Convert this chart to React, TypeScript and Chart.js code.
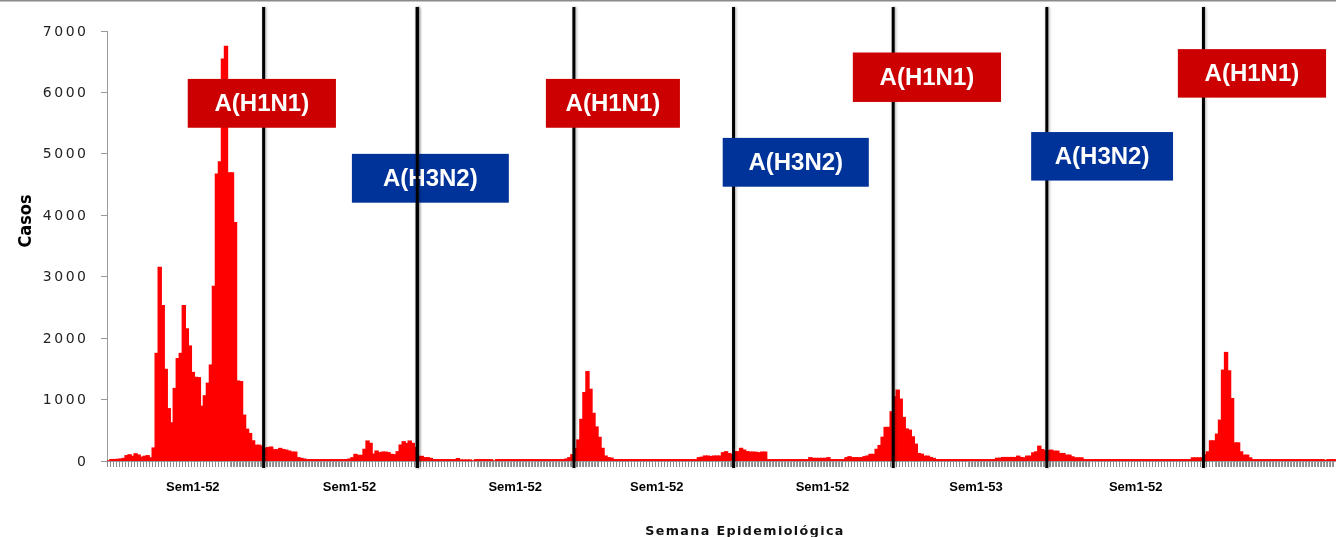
import React, { useEffect, useRef } from 'react';
import { Chart, registerables } from 'chart.js';

Chart.register(...registerables);

// Weekly cases, one block per span between the black season lines
const block1: number[] = [
  0, 22, 22, 25, 30, 40, 85, 100, 75, 115,
  95, 60, 75, 85, 50, 210, 1750, 3150, 2530, 1490,
  850, 620, 1180, 1665, 1750, 2530, 2150, 1870, 1440, 1360,
  1355, 890, 1060, 1265, 1560, 2840, 4670, 4870, 6540, 6750,
  4690, 4690, 3880, 1300, 1290, 744, 516, 445, 326, 255,
  255, 240,
];
const block2: number[] = [
  205, 218, 225, 182, 182, 203, 185, 175, 160, 143,
  143, 52, 41, 30,
  20, 20, 20, 20, 20, 20, 20, 20, 20, 20,
  20, 20, 20, 20,
  30, 52, 106, 90, 90, 188, 323, 285, 111, 160,
  133, 143, 143, 133, 106, 100, 149, 258, 312, 285,
  323, 285, 218,
];
const block3: number[] = [
  73, 73, 52, 52, 40,
  20, 20, 20, 20, 20, 20, 20, 20,
  37, 15, 15, 15, 15, 0,
  20, 20, 20, 20, 20, 20, 0,
  20, 20, 20, 20, 20, 20, 20, 20, 20, 20,
  20, 20, 20, 20, 20, 20, 20, 20, 20, 20,
  20, 20, 20,
  30, 52, 100,
];
const block4: number[] = [
  200, 340, 676, 1112, 1453, 1166, 774, 552, 383, 204,
  79, 52, 45,
  20, 20, 20, 20, 20, 20, 20, 20, 20, 20,
  20, 20, 20, 20, 20, 20, 20, 20, 20, 20,
  20, 20, 20, 20, 20, 20, 20, 20,
  52, 60, 79, 79, 70, 79, 79, 79, 133, 149,
  120, 106,
];
const block5: number[] = [
  150, 149, 204, 176, 150, 143, 143, 140, 133, 143,
  143,
  20, 20, 20, 20, 20, 20, 20, 20, 20, 20,
  20, 20, 20, 20,
  52, 41, 41, 41, 41, 41, 52,
  20, 20, 20, 20, 20,
  52, 68, 52, 52, 52, 52, 68, 80, 106, 106,
  188, 250, 385, 545, 545, 800,
];
const block6: number[] = [
  1043, 1152, 1005, 707, 520, 500, 391, 272, 120, 109,
  77, 77, 55, 40,
  20, 20, 20, 20, 20, 20, 20, 20, 20, 20,
  20, 20, 20, 20, 20, 20, 20, 20, 20, 20,
  43, 43, 55, 55, 55, 55, 55, 77, 55, 49,
  77, 77, 131, 147, 239, 185, 163,
];
const block7: number[] = [
  170, 174, 158, 158, 120, 120, 93, 93, 66, 49,
  49, 49,
  20, 20, 20, 20, 20, 20, 20, 20, 20, 20,
  20, 20, 20, 20, 20, 20, 20, 20, 20, 20,
  20, 20, 20, 20, 20, 20, 20, 20, 20, 20,
  20, 20, 20, 20, 20, 20,
  49, 49, 49, 49,
];
const block8: number[] = [
  100, 147, 326, 326, 435, 663, 1477, 1765, 1466, 1015,
  293, 293, 147, 93, 93, 49,
  20, 20, 20, 20, 20, 20, 20, 20, 20, 20,
  20, 20, 20, 20, 20, 20, 20, 20, 20, 20,
  20, 20, 20, 20,
  5, 20, 20, 20,
];

const weeklyCases: number[] = [
  ...block1, ...block2, ...block3, ...block4,
  ...block5, ...block6, ...block7, ...block8,
];
const weekCategories: string[] = weeklyCases.map((_, i) => String(i + 1));

// Tick labels of the x axis (week index where each label sits)
const yearLabelWeeks: number[] = [28, 80, 135, 182, 237, 288, 341];
const yearLabelTexts: string[] = ['Sem1-52', 'Sem1-52', 'Sem1-52', 'Sem1-52', 'Sem1-52', 'Sem1-53', 'Sem1-52'];

// Y ticks
const yTickValues: number[] = [0, 1000, 2000, 3000, 4000, 5000, 6000, 7000];

// Season separators (week boundary index)
const seasonBoundaries: number[] = [52, 103, 155, 208, 261, 312, 364];

// Subtype labels, placed in data space (week edges, case values)
const subtypeTexts: string[] = ['A(H1N1)', 'A(H3N2)', 'A(H1N1)', 'A(H3N2)', 'A(H1N1)', 'A(H3N2)', 'A(H1N1)'];
const subtypeFromWeek: number[] = [26.8, 81.3, 145.7, 204.4, 247.6, 306.8, 355.5];
const subtypeToWeek: number[] = [76.0, 133.4, 190.2, 252.9, 296.8, 353.9, 404.7];
const subtypeTopCases: number[] = [6220, 5000, 6220, 5260, 6650, 5355, 6705];
const subtypeBottomCases: number[] = [5425, 4205, 5425, 4465, 5845, 4565, 5915];
const boundariesAboveLabels: number[] = [103];

const H1N1_COLOR = '#cc0000';
const H3N2_COLOR = '#003399';
const BAR_COLOR = '#ff0000';
const AXIS_COLOR = '#9a9a9a';
const LINE_TOP = 7;

const overlayPlugin = {
  id: 'overlay',
  afterDraw(chart: any) {
    const { ctx, chartArea, scales } = chart;
    const xs = scales.x;
    const ys = scales.y;
    const edge = (w: number) => xs.getPixelForValue(w - 0.5);

    ctx.save();
    // top border of the picture
    ctx.fillStyle = '#8a8a8a';
    ctx.fillRect(0, 0, chart.width, 1.5);

    // weekly tick marks under the x axis (one per category boundary)
    ctx.strokeStyle = '#8c8c8c';
    ctx.lineWidth = 1;
    ctx.beginPath();
    for (let b = 0; b <= weeklyCases.length; b++) {
      const x = Math.round(edge(b)) + 0.5;
      ctx.moveTo(x, chartArea.bottom);
      ctx.lineTo(x, chartArea.bottom + 6);
    }
    ctx.stroke();

    const drawSeparator = (b: number) => {
      const x = edge(b);
      ctx.save();
      ctx.shadowColor = 'rgba(0,0,0,0.35)';
      ctx.shadowBlur = 3;
      ctx.shadowOffsetX = 1;
      ctx.strokeStyle = '#000';
      ctx.lineWidth = 3;
      ctx.beginPath();
      ctx.moveTo(x, LINE_TOP);
      ctx.lineTo(x, chartArea.bottom + 7);
      ctx.stroke();
      ctx.restore();
    };

    seasonBoundaries.forEach(drawSeparator);

    subtypeTexts.forEach((t, i) => {
      const x1 = edge(subtypeFromWeek[i]);
      const x2 = edge(subtypeToWeek[i]);
      const y1 = ys.getPixelForValue(subtypeTopCases[i]);
      const y2 = ys.getPixelForValue(subtypeBottomCases[i]);
      ctx.fillStyle = t.includes('H1N1') ? H1N1_COLOR : H3N2_COLOR;
      ctx.fillRect(x1, y1, x2 - x1, y2 - y1);
      ctx.fillStyle = '#ffffff';
      ctx.font = 'bold 24px "Liberation Sans", Arial, sans-serif';
      ctx.textAlign = 'center';
      ctx.textBaseline = 'middle';
      ctx.fillText(t, (x1 + x2) / 2, (y1 + y2) / 2 + 1);
    });

    boundariesAboveLabels.forEach(drawSeparator);

    // y tick labels
    ctx.fillStyle = '#222';
    ctx.font = '14px "DejaVu Sans", sans-serif';
    (ctx as any).letterSpacing = '2.5px';
    ctx.textAlign = 'right';
    ctx.textBaseline = 'middle';
    yTickValues.forEach((v) => {
      ctx.fillText(String(v), 88.5, ys.getPixelForValue(v) + 1);
    });

    // x axis title
    ctx.fillStyle = '#111';
    ctx.font = 'bold 12.7px "DejaVu Sans", sans-serif';
    (ctx as any).letterSpacing = '1.4px';
    ctx.textAlign = 'center';
    ctx.textBaseline = 'alphabetic';
    ctx.fillText('Semana Epidemiológica', 745, 535);

    // y axis title
    (ctx as any).letterSpacing = '0px';
    ctx.translate(31, 221);
    ctx.rotate(-Math.PI / 2);
    ctx.fillStyle = '#000';
    ctx.font = 'bold 18px "Liberation Sans Narrow", "DejaVu Sans Condensed", sans-serif';
    ctx.textAlign = 'center';
    ctx.textBaseline = 'alphabetic';
    ctx.fillText('Casos', 0, 0);
    ctx.restore();
  },
};

export default function App() {
  const canvasRef = useRef<HTMLCanvasElement | null>(null);

  useEffect(() => {
    if (!canvasRef.current) return;
    const labelAt: Record<number, string> = {};
    yearLabelWeeks.forEach((w, i) => {
      labelAt[w] = yearLabelTexts[i];
    });

    const chart = new Chart(canvasRef.current, {
      type: 'bar',
      data: {
        labels: weekCategories,
        datasets: [
          {
            data: weeklyCases,
            backgroundColor: BAR_COLOR,
            borderWidth: 0,
            barPercentage: 1,
            categoryPercentage: 1,
            inflateAmount: 0.7,
          },
        ],
      },
      options: {
        animation: false,
        responsive: false,
        maintainAspectRatio: false,
        layout: { padding: { top: 31, left: 0, right: 0, bottom: 0 } },
        plugins: {
          legend: { display: false },
          tooltip: { enabled: false },
        },
        scales: {
          x: {
            offset: true,
            grid: {
              display: true,
              drawOnChartArea: false,
              drawTicks: true,
              tickLength: 6,
              color: AXIS_COLOR,
              offset: true,
            },
            border: { color: AXIS_COLOR, width: 1 },
            ticks: {
              autoSkip: false,
              maxRotation: 0,
              minRotation: 0,
              padding: 13,
              color: '#000',
              font: { family: '"Liberation Sans", Arial, sans-serif', weight: 'bold', size: 13 },
              callback: (_v: any, i: number) => labelAt[i] ?? '',
            },
            afterFit: (s: any) => {
              s.height = 76;
              s.paddingLeft = 0;
              s.paddingRight = 0;
            },
          },
          y: {
            min: 0,
            max: 7000,
            grid: {
              drawOnChartArea: false,
              drawTicks: true,
              tickLength: 6,
              color: AXIS_COLOR,
            },
            border: { color: AXIS_COLOR, width: 1 },
            ticks: { stepSize: 1000, display: false },
            afterFit: (s: any) => {
              s.width = 107;
              s.paddingTop = 0;
              s.paddingBottom = 0;
            },
          },
        },
      },
      plugins: [overlayPlugin],
    } as any);

    return () => chart.destroy();
  }, []);

  return (
    <div style={{ position: 'fixed', left: 0, top: 0, width: 1336, height: 537, background: '#fff' }}>
      <canvas ref={canvasRef} width={1336} height={537} style={{ display: 'block' }} />
    </div>
  );
}
